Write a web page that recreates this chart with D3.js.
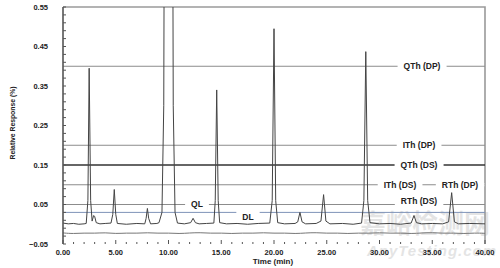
<!DOCTYPE html>
<html>
<head>
<meta charset="utf-8">
<script src="https://cdn.jsdelivr.net/npm/d3@7"></script>
<style>
  body { margin: 0; background: #fff; }
  text { font-family: "Liberation Sans", Arial, sans-serif; font-weight: bold; fill: #222; }
</style>
</head>
<body>
<script>
// sample chromatogram, [time (min), relative response (%)]
const sampleTrace = [
  [0,0.003],[0.5,0.001],[1,0.002],[1.5,0.0],[2,0.001],[2.2,0.002],[2.36,0.06],[2.48,0.395],[2.62,0.06],[2.76,0.008],
  [2.9,0.022],[3.0,0.02],[3.15,0.004],[3.5,0.001],[4,0.002],[4.55,0.003],[4.72,0.025],[4.86,0.088],[5.0,0.025],[5.15,0.002],
  [6,0.0],[7,0.002],[7.75,0.001],[7.88,0.015],[8.0,0.04],[8.12,0.015],[8.3,0.001],[8.9,0.002],[9.1,0.004],[9.38,0.03],
  [9.55,0.3],[9.62,1.0],[10.38,1.0],[10.45,0.3],[10.62,0.03],[10.85,0.003],[11.5,0.001],[12.1,0.004],[12.33,0.015],[12.55,0.004],
  [12.9,0.001],[13.6,0.002],[14.3,0.003],[14.43,0.06],[14.57,0.34],[14.71,0.06],[14.85,0.004],[15.5,0.001],[16.5,0.002],[17.5,0.0],
  [18.5,0.002],[19.6,0.003],[19.83,0.06],[20.0,0.495],[20.16,0.06],[20.35,0.004],[21,0.001],[22,0.002],[22.25,0.006],[22.46,0.03],
  [22.66,0.006],[23,0.001],[24,0.002],[24.45,0.008],[24.7,0.075],[24.92,0.008],[25.3,0.001],[26.5,0.002],[27.5,0.0],[28.3,0.003],
  [28.52,0.06],[28.7,0.437],[28.88,0.06],[29.1,0.004],[30,0.001],[31,0.002],[32,0.0],[33.0,0.003],[33.27,0.022],[33.5,0.004],
  [34,0.001],[35,0.002],[36,0.001],[36.55,0.006],[36.84,0.08],[37.1,0.006],[37.5,0.001],[38.5,0.002],[40,0.001]
]

// blank injection trace
const blankTrace = [
  [0,-0.022],[1,-0.024],[2,-0.022],[3,-0.023],[4,-0.021],[5,-0.024],[6,-0.022],[7,-0.023],[8,-0.021],[9,-0.023],
  [10,-0.022],[11,-0.024],[12,-0.022],[13,-0.021],[14,-0.023],[15,-0.022],[16,-0.024],[17,-0.022],[18,-0.023],[19,-0.021],
  [20,-0.023],[21,-0.022],[22,-0.024],[23,-0.022],[24,-0.021],[25,-0.023],[26,-0.022],[27,-0.024],[28,-0.022],[29,-0.023],
  [30,-0.021],[31,-0.023],[32,-0.022],[33,-0.024],[34,-0.022],[35,-0.021],[36,-0.023],[37,-0.022],[38,-0.024],[39,-0.022],[40,-0.023]
]

// threshold lines
const thresholdNames = ["QTh (DP)", "ITh (DP)", "QTh (DS)", "ITh (DS)", "RTh (DP)", "RTh (DS)", "QL", "DL"]
const thresholdValues = [0.40, 0.20, 0.15, 0.10, 0.10, 0.05, 0.05, 0.03]

const yMajor = [-0.05, 0.05, 0.15, 0.25, 0.35, 0.45, 0.55]
const xMajor = [0, 5, 10, 15, 20, 25, 30, 35, 40]

const W = 500, H = 268
const margin = {left: 63, right: 15, top: 7, bottom: 24}

const svg = d3.select("body").append("svg")
  .attr("width", W).attr("height", H)

const x = d3.scaleLinear().domain([0, 40]).range([margin.left, W - margin.right])
const y = d3.scaleLinear().domain([-0.05, 0.55]).range([H - margin.bottom, margin.top])

svg.append("defs").append("clipPath").attr("id", "plot")
  .append("rect")
  .attr("x", x(0)).attr("y", y(0.55))
  .attr("width", x(40) - x(0)).attr("height", y(-0.05) - y(0.55))

// watermark
const wm = svg.append("g").attr("opacity", 0.22)
wm.append("text")
  .attr("x", 425).attr("y", 233)
  .attr("text-anchor", "middle")
  .style("font-family", "Noto Sans CJK SC")
  .style("font-size", "26px")
  .style("fill", "#888")
  .text("嘉峪检测网")
wm.append("text")
  .attr("x", 432).attr("y", 256)
  .attr("text-anchor", "middle")
  .style("font-size", "15px")
  .style("font-style", "italic")
  .style("letter-spacing", "1px")
  .style("fill", "#888")
  .text("AnyTesting.com")

// frame: top and right
svg.append("path")
  .attr("d", `M${x(0)},${y(0.55)}H${x(40)}V${y(-0.05)}`)
  .attr("fill", "none").attr("stroke", "#9a9a9a").attr("stroke-width", 1.6)

// threshold lines
const labelX = {"QTh (DP)": 422, "ITh (DP)": 419, "QTh (DS)": 419, "ITh (DS)": 400,
  "RTh (DP)": 460, "RTh (DS)": 419, "QL": 197, "DL": 248}
const labelDy = {"RTh (DS)": -3, "DL": 5}

thresholdNames.forEach((name, i) => {
  const v = thresholdValues[i]
  if (i > 0 && thresholdValues[i - 1] === v) return
  svg.append("line")
    .attr("x1", x(0)).attr("x2", x(40))
    .attr("y1", y(v)).attr("y2", y(v))
    .attr("stroke", name == "DL" ? "#7f93b8" : name == "QTh (DS)" ? "#333" : "#8c8c8c")
    .attr("stroke-width", name == "QTh (DS)" ? 1.6 : 1)
})

const labels = svg.append("g")
thresholdNames.forEach((name, i) => {
  const v = thresholdValues[i]
  const ty = y(v) + (labelDy[name] || 0)
  const t = labels.append("text")
    .attr("x", labelX[name]).attr("y", ty)
    .attr("dy", "0.35em")
    .attr("text-anchor", "middle")
    .style("font-size", "8.5px")
    .text(name)
  const bb = t.node().getBBox()
  labels.insert("rect", "text")
    .attr("x", bb.x - 6).attr("y", y(v) - 1.5)
    .attr("width", bb.width + 12).attr("height", 3)
    .attr("fill", "#fff")
})

// traces
const line = d3.line().x(d => x(d[0])).y(d => y(d[1]))
svg.append("path")
  .datum(blankTrace)
  .attr("clip-path", "url(#plot)")
  .attr("d", line.curve(d3.curveBasis))
  .attr("fill", "none").attr("stroke", "#777").attr("stroke-width", 1)
svg.append("path")
  .datum(sampleTrace)
  .attr("clip-path", "url(#plot)")
  .attr("d", line.curve(d3.curveLinear))
  .attr("fill", "none").attr("stroke", "#444").attr("stroke-width", 1)

// y axis
const yAxis = svg.append("g").attr("transform", `translate(${x(0)},0)`)
yAxis.selectAll(".minor")
  .data(d3.range(-0.05, 0.551, 0.02)).enter()
  .append("line")
  .attr("x1", 0).attr("x2", 3)
  .attr("y1", d => y(d)).attr("y2", d => y(d))
  .attr("stroke", "#555")
yAxis.append("line")
  .attr("y1", y(0.55)).attr("y2", y(-0.05))
  .attr("stroke", "#555").attr("stroke-width", 1.6)
yAxis.selectAll(".lab")
  .data(yMajor).enter()
  .append("text")
  .attr("x", -15).attr("y", d => y(d))
  .attr("dy", "0.35em")
  .attr("text-anchor", "end")
  .style("font-size", "7.5px")
  .text(d3.format(".2f"))

// x axis
const xAxis = svg.append("g").attr("transform", `translate(0,${y(-0.05)})`)
xAxis.selectAll(".minor")
  .data(d3.range(0, 40.01, 1)).enter()
  .append("line")
  .attr("x1", d => x(d)).attr("x2", d => x(d))
  .attr("y1", 0).attr("y2", d => d % 5 == 0 ? -4 : -2)
  .attr("stroke", "#555")
xAxis.selectAll(".lab")
  .data(xMajor).enter()
  .append("text")
  .attr("x", d => x(d)).attr("y", 11)
  .attr("text-anchor", "middle")
  .style("font-size", "7.5px")
  .text(d3.format(".2f"))

svg.append("text")
  .attr("x", 273).attr("y", 264)
  .attr("text-anchor", "middle")
  .style("font-size", "8px")
  .text("Time (min)")

svg.append("text")
  .attr("transform", "translate(15,123) rotate(-90)")
  .attr("text-anchor", "middle")
  .style("font-size", "6.8px")
  .text("Relative Response (%)")
</script>
</body>
</html>
